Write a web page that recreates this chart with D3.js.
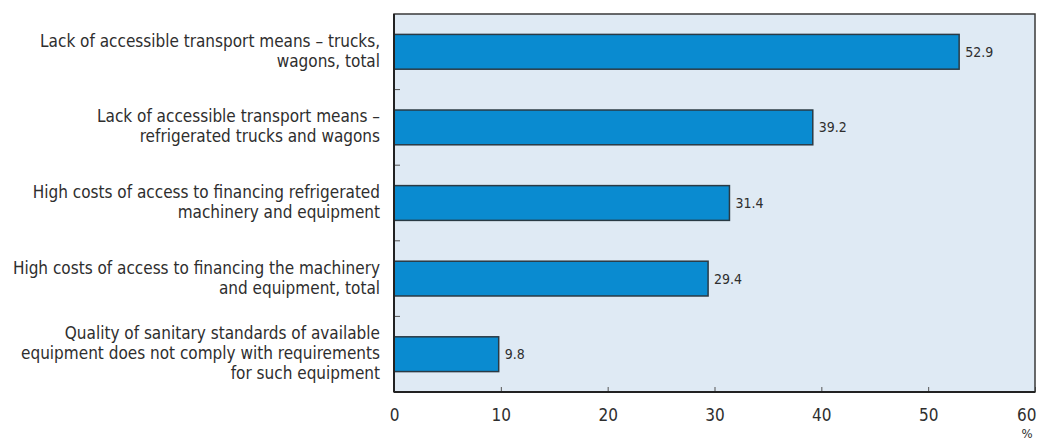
<!DOCTYPE html>
<html><head><meta charset="utf-8">
<script src="https://cdn.jsdelivr.net/npm/d3@7"></script>
<style>
body{margin:0;background:#fff;}
text{font-family:"Liberation Sans Narrow","DejaVu Sans Condensed","Roboto Condensed",sans-serif;fill:#2e2e2e;}
</style></head><body>
<svg id="c" width="1037" height="440"></svg>
<script>
const categories = [
  ["Lack of accessible transport means – trucks,", "wagons, total"],
  ["Lack of accessible transport means –", "refrigerated trucks and wagons"],
  ["High costs of access to financing refrigerated", "machinery and equipment"],
  ["High costs of access to financing the machinery", "and equipment, total"],
  ["Quality of sanitary standards of available", "equipment does not comply with requirements", "for such equipment"]
];
const values = [52.9, 39.2, 31.4, 29.4, 9.8];
const xTicks = [0, 10, 20, 30, 40, 50, 60];
const unitLabel = "%";

const svg = d3.select("#c");
const m = {l:394, r:1035, t:14, b:392};
const x = d3.scaleLinear().domain([0,60]).range([m.l, m.r]);
const y = d3.scaleBand().domain(d3.range(categories.length)).range([m.t, m.b]).paddingInner(0.54).paddingOuter(0.27);

svg.append("rect").attr("x",m.l).attr("y",m.t).attr("width",m.r-m.l).attr("height",m.b-m.t)
  .attr("fill","#dfeaf4");

const bandStep = (m.b-m.t)/categories.length;
for(let i=1;i<categories.length;i++){
  svg.append("line").attr("x1",m.l).attr("x2",m.l+6)
    .attr("y1",m.t+i*bandStep).attr("y2",m.t+i*bandStep)
    .attr("stroke","#555").attr("stroke-width",1);
}

svg.selectAll("rect.bar").data(values).enter().append("rect").attr("class","bar")
  .attr("x",x(0)).attr("y",(d,i)=>y(i)).attr("width",d=>x(d)-x(0)).attr("height",y.bandwidth())
  .attr("fill","#0a8bd0").attr("stroke","#2a3a44").attr("stroke-width",1.5);

svg.selectAll("text.val").data(values).enter().append("text").attr("class","val")
  .attr("x",d=>x(d)+6).attr("y",(d,i)=>y(i)+y.bandwidth()/2+5)
  .attr("font-size",14).text(d=>d.toFixed(1));

const xa = d3.axisBottom(x).tickValues(xTicks).tickSize(-5).tickFormat(d3.format("d"));
const g = svg.append("g").attr("transform",`translate(0,${m.b})`).call(xa);
g.select(".domain").remove();
g.selectAll(".tick line").attr("stroke","#555");
g.selectAll(".tick text").attr("font-size",17).attr("dy","0").attr("y",29).style("font-family",null)
  .attr("text-anchor",d=>d===60?"end":"middle").attr("x",d=>d===60?1:0);

svg.append("text").attr("x",x(60)-8).attr("y",438).attr("font-size",13).attr("text-anchor","middle").text(unitLabel);

svg.append("rect").attr("x",m.l).attr("y",m.t).attr("width",m.r-m.l).attr("height",m.b-m.t)
  .attr("fill","none").attr("stroke","#3a3a3a").attr("stroke-width",1.5);
svg.append("line").attr("x1",m.l).attr("x2",m.l).attr("y1",m.t).attr("y2",m.b).attr("stroke","#222").attr("stroke-width",2);
svg.append("line").attr("x1",m.l).attr("x2",m.r).attr("y1",m.b).attr("y2",m.b).attr("stroke","#222").attr("stroke-width",2);

const lh = 20;
categories.forEach((lines,i)=>{
  const cy = m.t + (i+0.5)*bandStep;
  const t = svg.append("text").attr("text-anchor","end").attr("font-size",17);
  lines.forEach((s,j)=>{
    t.append("tspan").attr("x",380).attr("y", cy + (j-(lines.length-1)/2)*lh + 5).text(s);
  });
});
</script></body></html>
